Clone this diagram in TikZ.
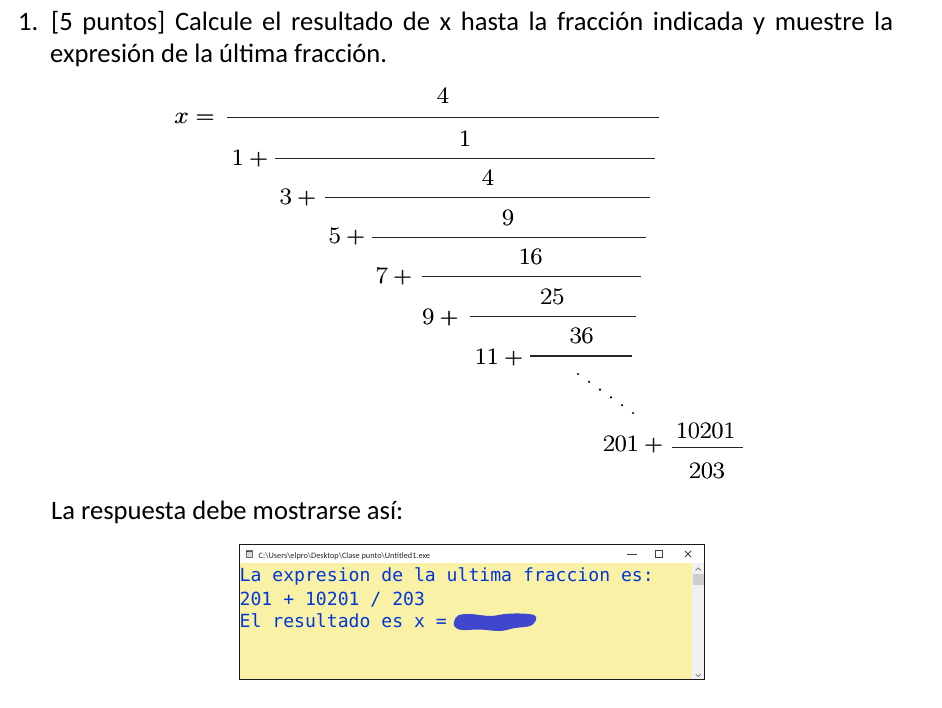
\RequirePackage{fix-cm}
\documentclass[tikz,border=0pt]{standalone}
\usepackage[no-math]{fontspec}
\setmainfont{Carlito}
\newfontfamily\consolefont{DejaVu Sans Mono}
\usepackage{graphicx}
\definecolor{consblue}{RGB}{0,55,218}
\definecolor{consyellow}{RGB}{249,241,165}
\definecolor{blobblue}{RGB}{63,72,204}
\definecolor{scrollgray}{RGB}{240,240,240}
\definecolor{thumbgray}{RGB}{205,205,205}
\newcommand\mth[1]{\scalebox{1.1}[1]{\rlap{$#1$}\kern0.45pt$#1$}}
\newcommand\mplus{\mskip\medmuskip+}
\begin{document}
\begin{tikzpicture}[x=1pt,y=-1pt,
  mt/.style={font=\fontsize{23.5}{28}\selectfont, inner sep=0pt},
  mnum/.style={mt, anchor=base},
  mleft/.style={mt, anchor=base east},
  fbar/.style={line width=1.1pt, black!85},
  hd/.style={font=\fontsize{26.6}{32}\selectfont, inner sep=0pt, anchor=base west},
  cons/.style={font=\consolefont\fontsize{18.1}{22}\selectfont, text=consblue, inner sep=0pt, anchor=base west},
  ttl/.style={font=\fontsize{8.3}{10}\selectfont, inner sep=0pt, anchor=base west, text=black!85},
  winbtn/.style={line width=0.8pt, black!75},
  chev/.style={line width=0.7pt, black!55}]
\fill[white] (0,0) rectangle (942,708);
\useasboundingbox (0,0) rectangle (942,708);

% header
\node[hd] (num) at (18,31) {1.};
\node[hd] (line1) at (51,31) {\makebox[842pt][s]{[5 puntos] Calcule el resultado de x hasta la fracción indicada y muestre la}};
\node[hd] (line2) at (50,62.5) {expresión de la última fracción.};

% continued fraction
\node[mleft] (xeq) at (215,123.4) {\mth{x=}};
\node[mnum] (n1) at (443,104) {\mth{4}};
\draw[fbar] (227,117.5) -- (659,117.5);
\node[mleft] (l1) at (268.5,166) {\mth{1\mplus}};
\node[mnum] (n2) at (465,146.7) {\mth{1}};
\draw[fbar] (275,158.5) -- (655,158.5);
\node[mleft] (l2) at (316.5,205) {\mth{3\mplus}};
\node[mnum] (n3) at (488,186) {\mth{4}};
\draw[fbar] (325,197.8) -- (650,197.8);
\node[mleft] (l3) at (365.5,244) {\mth{5\mplus}};
\node[mnum] (n4) at (508,225.7) {\mth{9}};
\draw[fbar] (372,237.3) -- (645.7,237.3);
\node[mleft] (l4) at (412.5,284) {\mth{7\mplus}};
\node[mnum] (n5) at (530.7,264.3) {\mth{16}};
\draw[fbar] (421.5,276.8) -- (641,276.8);
\node[mleft] (l5) at (459,325) {\mth{9\mplus}};
\node[mnum] (n6) at (552.3,304.3) {\mth{25}};
\draw[fbar] (470,316.5) -- (636,316.5);
\node[mleft] (l6) at (523.5,364) {\mth{11\mplus}};
\node[mnum] (n7) at (581.7,344) {\mth{36}};
\draw[fbar] (530,356) -- (632,356);
\foreach \i in {0,...,5} {
  \fill ({578+11*\i},{374+7.8*\i}) circle (1.2);
}
\node[mleft] (l7) at (663.5,451) {\mth{201\mplus}};
\node[mnum] (n8) at (705.8,438.3) {\mth{10201}};
\draw[fbar] (672,447.3) -- (743,447.3);
\node[mnum] (d8) at (707,478.3) {\mth{203}};

% answer label
\node[hd] (resp) at (51,519) {La respuesta debe mostrarse así:};

% console window
\fill[white] (239,544) rectangle (704.5,563);
\fill[consyellow] (239,563) rectangle (692,679.5);
\fill[scrollgray] (692,563) rectangle (704.5,679.5);
\fill[thumbgray] (693,574) rectangle (703.5,585);
\draw[chev] (695.5,570.5) -- (698.2,567.8) -- (700.9,570.5);
\draw[chev] (695.5,674) -- (698.2,676.7) -- (700.9,674);
\draw[line width=1pt, black!90] (239,544) rectangle (704.5,679.5);
% title bar
\draw[black!55, fill=black!15, line width=0.6pt] (246,550.5) rectangle (252,557);
\fill[black!70] (246.3,550.8) rectangle (251.7,552.3);
\node[ttl] (title) at (258.5,558) {C:\textbackslash Users\textbackslash elpro\textbackslash Desktop\textbackslash Clase punto\textbackslash Untitled1.exe};
\draw[winbtn] (627,554.5) -- (637,554.5);
\draw[winbtn] (655,550.7) rectangle (662.5,557.7);
\draw[winbtn] (685,551) -- (691,557) (685,557) -- (691,551);
% console text
\node[cons] (c1) at (239.5,581.7) {La expresion de la ultima fraccion es:};
\node[cons] (c2) at (239.5,605) {201 + 10201 / 203};
\node[cons] (c3) at (239.5,627.5) {El resultado es x =};
\fill[blobblue] plot[smooth cycle, tension=0.6] coordinates {(454,622) (458,615.5) (470,614) (490,616) (505,614) (520,613.5) (534,615) (536,620) (530,626) (515,628) (500,631) (480,629.5) (462,630) (455,627)};
\end{tikzpicture}
\end{document}
